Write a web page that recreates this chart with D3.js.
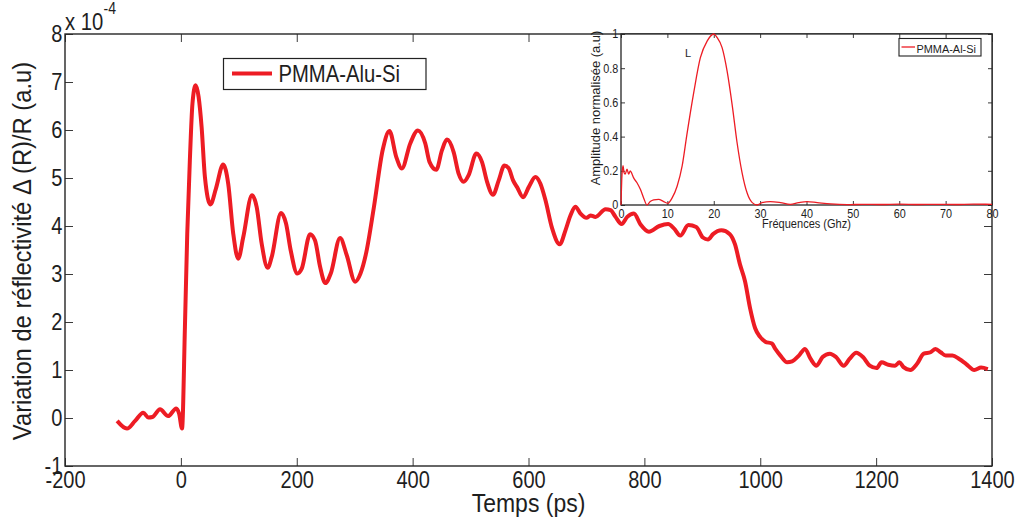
<!DOCTYPE html>
<html>
<head>
<meta charset="utf-8">
<script src="https://d3js.org/d3.v7.min.js"></script>
<style>
  body { margin: 0; background: #fff; }
  svg { font-family: "Liberation Sans", Arial, sans-serif; }
  .axis path { display: none; }
  .axis line { stroke: #3a3a3a; stroke-width: 1; }
</style>
</head>
<body>
<script>
// main trace : time (ps) and dR/R (x 1e-4)
var mainTime = [-110, -93, -79, -65, -56, -49, -36, -22, -8, -3, 2, 7, 11, 15.5, 20, 25.4, 30.6, 35.8, 41.5, 51,
  60.5, 73, 81.7, 90.4, 99, 107.7, 122.7, 130.8, 139.5, 149.8, 156.7, 172.9, 181.5, 189.6, 201, 208.6, 223, 231.6,
  240.3, 249.4, 258.7, 274.8, 286.3, 300.8, 310, 320, 333, 348.6, 360, 371.7, 381.5, 395.9, 409.1, 421.8, 429.3,
  440.8, 450.7, 459.3, 470.8, 479.4, 488, 496.7, 510, 519.8, 528.5, 538.8, 548.6, 558.4, 565.9, 573.4, 580.3, 590.7,
  600.4, 612, 620.6, 629.2, 640.8, 653.9, 663.8, 672.4, 681, 689.7, 700, 707, 715.6, 733, 741.6, 750.2, 760.6, 770.4,
  781.9, 793.4, 807.8, 826, 841, 851, 862, 876, 889.5, 901, 909.8, 918.5, 933, 947.5, 956.3, 965, 973.7, 982.4,
  991.2, 999.8, 1008.6, 1020.2, 1026, 1034.8, 1046.5, 1055, 1066.7, 1077.2, 1087, 1097, 1107.6, 1120.2, 1130.8,
  1144.1, 1154.1, 1165.7, 1177.3, 1189, 1200.8, 1209.3, 1221, 1232.7, 1240.3, 1247.3, 1259, 1270.7, 1282.2, 1294,
  1302.6, 1311.4, 1320, 1331.7, 1343.4, 1355, 1369.5, 1381.2, 1392.8];
var mainSignal = [-0.06, -0.22, -0.06, 0.11, 0.01, 0.02, 0.18, 0.04, 0.2, 0.09, -0.22, 1.9, 3.84, 5.37, 6.55, 6.93, 6.69, 6.06, 5.02, 4.45,
  4.78, 5.28, 4.88, 3.84, 3.32, 3.77, 4.64, 4.4, 3.63, 3.13, 3.35, 4.27, 4.05, 3.49, 3.01, 3.11, 3.83, 3.7,
  3.15, 2.81, 3.01, 3.75, 3.39, 2.84, 3.01, 3.45, 4.38, 5.6, 5.98, 5.44, 5.2, 5.72, 5.99, 5.72, 5.33,
  5.17, 5.58, 5.8, 5.54, 5.09, 4.92, 5.06, 5.51, 5.33, 4.92, 4.65, 4.95, 5.26, 5.2, 4.95, 4.81, 4.6,
  4.81, 5.02, 4.88, 4.54, 3.95, 3.62, 3.91, 4.22, 4.4, 4.26, 4.17, 4.22, 4.19, 4.35, 4.33, 4.19, 4.04, 4.19,
  4.26, 4.03, 3.88, 4.0, 4.04, 3.95, 3.8, 4.02, 3.98, 3.76, 3.72, 3.83, 3.91, 3.83, 3.62, 3.2, 2.85, 2.29,
  1.87, 1.69, 1.59, 1.55, 1.44, 1.3, 1.16, 1.18, 1.3, 1.44, 1.23, 1.09, 1.27, 1.34, 1.27,
  1.09, 1.23, 1.36, 1.27, 1.09, 1.04, 1.16, 1.11, 1.09, 1.16, 1.06, 1.0, 1.13, 1.34, 1.37,
  1.44, 1.37, 1.3, 1.3, 1.23, 1.13, 1.0, 1.05, 1.02];
var xTicks = [-200, 0, 200, 400, 600, 800, 1000, 1200, 1400];
var yTicks = [-1, 0, 1, 2, 3, 4, 5, 6, 7, 8];

// inset : spectrum
var freq = [0, 0.2, 0.43, 0.65, 0.9, 1.3, 1.65, 2.0, 2.4, 2.7, 3.45, 4.2, 4.9, 5.6, 6.3, 7.05, 8.1, 9.2, 10.1, 11,
  12.1, 13.2, 14.2, 15.7, 17.1, 18.6, 20, 20.7, 21.8, 22.9, 24, 25, 26.1, 27.2, 28.3, 29.4, 30.4, 32.2, 34.4, 36.5,
  38.3, 40.1, 42.3, 45.2, 48.8, 52, 56, 60, 64, 68, 72, 76, 80];
var amplitude = [0, 0.17, 0.23, 0.19, 0.18, 0.21, 0.18, 0.2, 0.18, 0.16, 0.13, 0.09, 0.04, 0.0, 0.02, 0.03, 0.033, 0.02, 0.01, 0.04,
  0.11, 0.23, 0.41, 0.66, 0.86, 0.96, 1.0, 0.98, 0.92, 0.78, 0.58, 0.37, 0.19, 0.07, 0.014, 0.0, 0.014, 0.02, 0.014, 0.004,
  0.014, 0.02, 0.014, 0.006, 0.002, 0.004, 0.003, 0.005, 0.003, 0.004, 0.003, 0.005, 0.004];
var insetXTicks = [0, 10, 20, 30, 40, 50, 60, 70, 80];
var insetYTicks = [0, 0.2, 0.4, 0.6, 0.8, 1];

var red = "#ed1c24", ink = "#1e1e1e";

var svg = d3.select("body").append("svg").attr("width", 1017).attr("height", 522);

var m = {left: 65, right: 992, top: 34, bottom: 466};
var x = d3.scaleLinear().domain([-200, 1400]).range([m.left, m.right]);
var y = d3.scaleLinear().domain([-1, 8]).range([m.bottom, m.top]);

function styleTicks(g, size, sx) {
  g.attr("font-size", null).attr("font-family", null);
  g.selectAll("text").attr("font-size", size).attr("fill", ink)
    .attr("transform", "scale(" + sx + ",1)");
}

// main axes
svg.append("g").attr("class", "axis").attr("transform", "translate(0," + m.bottom + ")")
  .call(d3.axisBottom(x).tickValues(xTicks).tickFormat(String).tickSize(-8).tickSizeOuter(0).tickPadding(6))
  .call(styleTicks, 23, 0.87);
svg.append("g").attr("class", "axis").attr("transform", "translate(0," + m.top + ")")
  .call(d3.axisTop(x).tickValues(xTicks).tickFormat("").tickSize(-8).tickSizeOuter(0));
svg.append("g").attr("class", "axis").attr("transform", "translate(" + m.left + ",0)")
  .call(d3.axisLeft(y).tickValues(yTicks).tickFormat(String).tickSize(-8).tickSizeOuter(0).tickPadding(3))
  .call(styleTicks, 23, 0.87);
svg.append("g").attr("class", "axis").attr("transform", "translate(" + m.right + ",0)")
  .call(d3.axisRight(y).tickValues(yTicks).tickFormat("").tickSize(-8).tickSizeOuter(0));

svg.append("rect").attr("x", m.left).attr("y", m.top)
  .attr("width", m.right - m.left).attr("height", m.bottom - m.top)
  .attr("fill", "none").attr("stroke", "#262626").attr("stroke-width", 1.4);

var line = d3.line().x(function(d, i) { return x(mainTime[i]); })
  .y(function(d) { return y(d); }).curve(d3.curveMonotoneX);
svg.append("path").datum(mainSignal).attr("d", line)
  .attr("fill", "none").attr("stroke", red).attr("stroke-width", 4).attr("stroke-linejoin", "round");

// exponent
svg.append("text").attr("transform", "translate(65,30) scale(0.88,1)")
  .attr("font-size", 23).attr("fill", ink).text("x 10");
svg.append("text").attr("transform", "translate(103.5,14) scale(0.88,1)")
  .attr("font-size", 16).attr("fill", ink).text("-4");

// titles
svg.append("text").attr("transform", "translate(" + ((m.left + m.right) / 2) + ",512) scale(0.92,1)")
  .attr("text-anchor", "middle").attr("font-size", 25).attr("fill", ink).text("Temps (ps)");
svg.append("text").attr("transform", "translate(31,251) rotate(-90) scale(0.95,1)")
  .attr("text-anchor", "middle").attr("font-size", 25).attr("fill", ink)
  .text("Variation de réflectivité Δ (R)/R (a.u)");

// main legend
svg.append("rect").attr("x", 223.5).attr("y", 58.5).attr("width", 202.5).attr("height", 31)
  .attr("fill", "#fff").attr("stroke", "#222").attr("stroke-width", 1.2);
svg.append("line").attr("x1", 232).attr("x2", 272).attr("y1", 73.5).attr("y2", 73.5)
  .attr("stroke", red).attr("stroke-width", 4);
svg.append("text").attr("transform", "translate(278.5,81.5) scale(0.88,1)")
  .attr("font-size", 23).attr("fill", ink).text("PMMA-Alu-Si");

// inset
var im = {left: 621, right: 992, top: 34, bottom: 205};
var ix = d3.scaleLinear().domain([0, 80]).range([im.left, im.right]);
var iy = d3.scaleLinear().domain([0, 1]).range([im.bottom, im.top]);

svg.append("rect").attr("x", im.left).attr("y", im.top)
  .attr("width", im.right - im.left).attr("height", im.bottom - im.top).attr("fill", "#fff");

svg.append("g").attr("class", "axis").attr("transform", "translate(0," + im.bottom + ")")
  .call(d3.axisBottom(ix).tickValues(insetXTicks).tickFormat(String).tickSize(-4).tickSizeOuter(0).tickPadding(4))
  .call(styleTicks, 12, 0.9);
svg.append("g").attr("class", "axis").attr("transform", "translate(0," + im.top + ")")
  .call(d3.axisTop(ix).tickValues(insetXTicks).tickFormat("").tickSize(-4).tickSizeOuter(0));
svg.append("g").attr("class", "axis").attr("transform", "translate(" + im.left + ",0)")
  .call(d3.axisLeft(iy).tickValues(insetYTicks).tickFormat(String).tickSize(-4).tickSizeOuter(0).tickPadding(3))
  .call(styleTicks, 12, 0.9);
svg.append("g").attr("class", "axis").attr("transform", "translate(" + im.right + ",0)")
  .call(d3.axisRight(iy).tickValues(insetYTicks).tickFormat("").tickSize(-4).tickSizeOuter(0));

svg.append("rect").attr("x", im.left).attr("y", im.top)
  .attr("width", im.right - im.left).attr("height", im.bottom - im.top)
  .attr("fill", "none").attr("stroke", "#262626").attr("stroke-width", 1.3);

var iline = d3.line().x(function(d, i) { return ix(freq[i]); })
  .y(function(d) { return iy(d); }).curve(d3.curveMonotoneX);
svg.append("path").datum(amplitude).attr("d", iline)
  .attr("fill", "none").attr("stroke", red).attr("stroke-width", 1.3);

svg.append("text").attr("x", 685).attr("y", 57).attr("font-size", 11).attr("fill", ink).text("L");

svg.append("text").attr("transform", "translate(" + ((im.left + im.right) / 2) + ",228) scale(0.92,1)")
  .attr("text-anchor", "middle").attr("font-size", 12).attr("fill", ink).text("Fréquences (Ghz)");
svg.append("text").attr("transform", "translate(600,108) rotate(-90) scale(0.96,1)")
  .attr("text-anchor", "middle").attr("font-size", 13.5).attr("fill", ink).text("Amplitude normalisée (a.u)");

// inset legend
svg.append("rect").attr("x", 899).attr("y", 38.5).attr("width", 82).attr("height", 17.5)
  .attr("fill", "#fff").attr("stroke", "#222").attr("stroke-width", 1.1);
svg.append("line").attr("x1", 901.5).attr("x2", 915).attr("y1", 47).attr("y2", 47)
  .attr("stroke", red).attr("stroke-width", 1.3);
svg.append("text").attr("transform", "translate(916.5,52.5) scale(0.95,1)")
  .attr("font-size", 11.5).attr("fill", ink).text("PMMA-Al-Si");
</script>
</body>
</html>
